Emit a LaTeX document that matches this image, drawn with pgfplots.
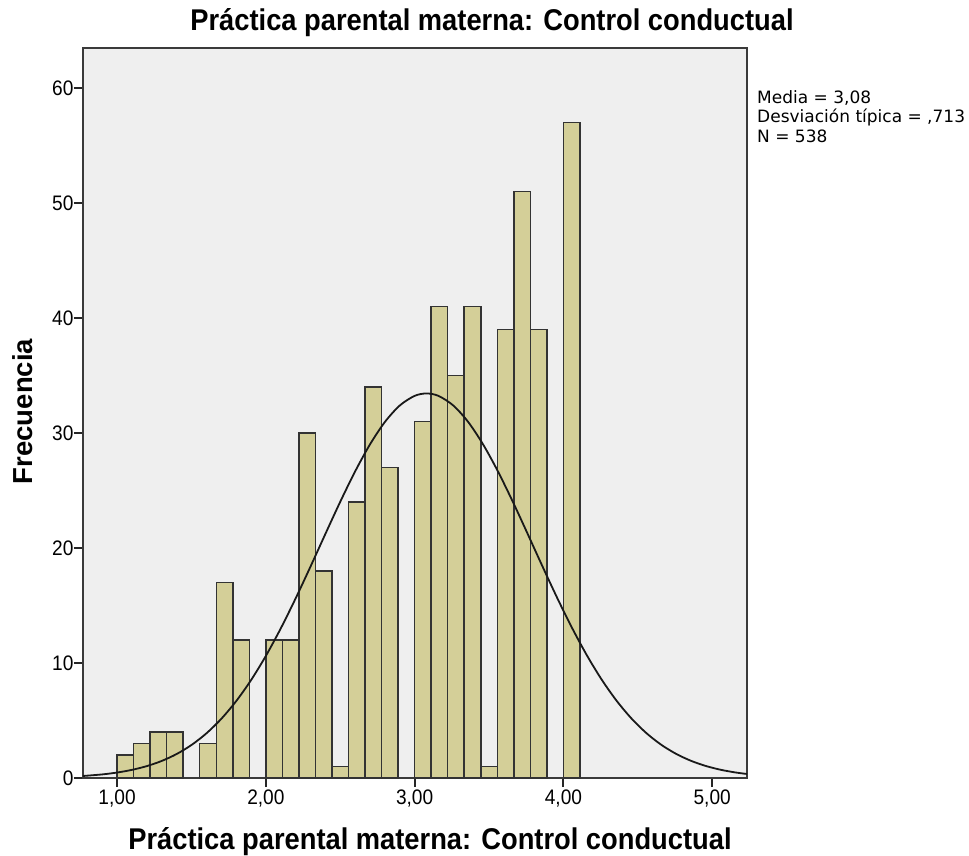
\documentclass[border=0pt]{standalone}
\usepackage{pgfplots}
\pgfplotsset{compat=1.18}
\usepackage{fontspec}
\setmainfont{Liberation Sans}[FakeStretch=0.91]
\newfontfamily\ylabfont{Liberation Sans}
\newfontfamily\statfont{DejaVu Sans}
\definecolor{barfill}{HTML}{D4CF98}
\definecolor{plotbg}{HTML}{EFEFEF}
\definecolor{frame}{HTML}{3A3A3A}
\begin{document}
\begin{tikzpicture}[x=1pt,y=1pt]
\path[use as bounding box] (0,0) rectangle (969,855);
\begin{axis}[
  at={(83pt,77pt)}, anchor=south west,
  scale only axis, width=664pt, height=730pt,
  xmin=0.771, xmax=5.234, ymin=0, ymax=63.5,
  axis background/.style={fill=plotbg},
  axis line style={frame, line width=2pt},
  xtick={1,2,3,4,5},
  xticklabels={{1,00},{2,00},{3,00},{4,00},{5,00}},
  ytick={0,10,20,30,40,50,60},
  yticklabels={0,10,20,30,40,50,60},
  xtick pos=bottom, ytick pos=left,
  tick align=outside,
  major tick length=9pt,
  tick style={black!85, line width=2pt},
  ticklabel style={font=\fontsize{21}{23}\selectfont},
  xticklabel style={yshift=1pt},
  yticklabel style={xshift=3pt},
  title={\bfseries Práctica parental materna: Control conductual},
  title style={font=\fontsize{30}{32}\selectfont, at={(axis description cs:0.616,1.0155)}, anchor=base},
  xlabel={\bfseries Práctica parental materna: Control conductual},
  xlabel style={font=\fontsize{30}{32}\selectfont, at={(axis description cs:0.5226,-0.0975)}, anchor=base},
  ylabel={\ylabfont\bfseries Frecuencia},
  ylabel style={font=\fontsize{27.5}{30}\selectfont, at={(axis description cs:-0.0768,0.502)}, anchor=base, rotate=0},
  clip=false,
]
\addplot[ybar, bar width=0.11111, bar shift=0pt, fill=barfill, draw=black!80, line width=1.5pt]
coordinates {
(1.0556,2) (1.1667,3) (1.2778,4) (1.3889,4)
(1.6111,3) (1.7222,17) (1.8333,12)
(2.0556,12) (2.1667,12) (2.2778,30) (2.3889,18) (2.5,1) (2.6111,24) (2.7222,34) (2.8333,27)
(3.0556,31) (3.1667,41) (3.2778,35) (3.3889,41) (3.5,1) (3.6111,39) (3.7222,51) (3.8333,39)
(4.0556,57)
};
\addplot[smooth, black!90, line width=1.8pt]
coordinates {
(0.771,0.176) (0.9,0.312) (1.0,0.475) (1.1,0.708) (1.2,1.035) (1.3,1.483) (1.4,2.083)
(1.5,2.870) (1.6,3.879) (1.7,5.141) (1.8,6.678) (1.9,8.504) (2.0,10.621) (2.1,13.007)
(2.2,15.618) (2.3,18.388) (2.4,21.227) (2.5,24.028) (2.6,26.668) (2.7,29.021) (2.8,30.968)
(2.9,32.401) (3.0,33.240) (3.08,33.45) (3.16,33.240) (3.26,32.401) (3.36,30.968) (3.46,29.021)
(3.56,26.668) (3.66,24.028) (3.76,21.227) (3.86,18.388) (3.96,15.618) (4.06,13.007)
(4.16,10.621) (4.26,8.504) (4.36,6.678) (4.46,5.141) (4.56,3.879) (4.66,2.870) (4.76,2.083)
(4.86,1.483) (4.96,1.035) (5.06,0.708) (5.16,0.475) (5.234,0.349)
};
\node[anchor=north west, align=left, inner sep=0pt, font=\statfont\fontsize{17}{19.5}\selectfont]
  at (axis description cs:1.0151,0.942)
  {Media = 3,08\\Desviación típica = ,713\\N = 538};
\end{axis}
\end{tikzpicture}
\end{document}
